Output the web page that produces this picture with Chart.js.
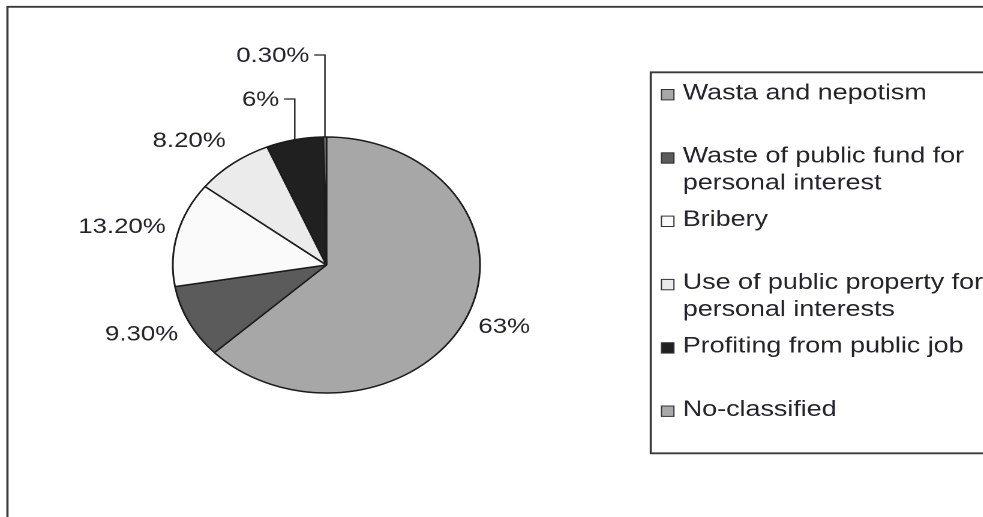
<!DOCTYPE html>
<html>
<head>
<meta charset="utf-8">
<script src="https://cdn.jsdelivr.net/npm/chart.js"></script>
<style>
  html, body { margin: 0; padding: 0; background: #fff; overflow: hidden; }
  /* the source figure is stretched horizontally (~1.2x), so the whole canvas is too */
  #wrap { width: 819px; height: 517px; transform: scaleX(1.2); transform-origin: 0 0; }
</style>
</head>
<body>
<div id="wrap"><canvas id="pie" width="819" height="517"></canvas></div>
<script>
  // categories (one entry per legend line)
  const categories = [
    ['Wasta and nepotism'],
    ['Waste of public fund for', 'personal interest'],
    ['Bribery'],
    ['Use of public property for', 'personal interests'],
    ['Profiting from public job'],
    ['No-classified']
  ];
  const shares = [63, 9.3, 13.2, 8.2, 6, 0.3];
  const shareLabels = ['63%', '9.30%', '13.20%', '8.20%', '6%', '0.30%'];
  const sliceColors = ['#a7a7a7', '#5b5b5b', '#fafafa', '#ebebeb', '#202020', '#a9a9a9'];

  const TEXT = '#23232b';

  // outer frame of the figure (left and top edges only are visible)
  const framePlugin = {
    id: 'frame',
    beforeDraw(chart) {
      const ctx = chart.ctx;
      ctx.save();
      ctx.strokeStyle = '#3a3a3a';
      ctx.lineWidth = 1.8;
      ctx.beginPath();
      ctx.moveTo(6.2, 530);
      ctx.lineTo(6.2, 6.8);
      ctx.lineTo(830, 6.8);
      ctx.stroke();
      ctx.restore();
    }
  };

  // percentage labels; small slices get a leader line going up
  const labelPlugin = {
    id: 'sliceLabels',
    afterDatasetsDraw(chart) {
      const ctx = chart.ctx;
      const meta = chart.getDatasetMeta(0);
      ctx.save();
      ctx.font = '21.5px "Liberation Sans", Arial, sans-serif';
      ctx.fillStyle = TEXT;
      ctx.strokeStyle = '#222';
      ctx.lineWidth = 1.2;
      let rank = 0;
      meta.data.forEach((arc, i) => {
        const p = arc.getProps(['x', 'y', 'startAngle', 'endAngle', 'outerRadius'], true);
        const mid = (p.startAngle + p.endAngle) / 2;
        const c = Math.cos(mid), s = Math.sin(mid);
        if (shares[i] < 7) {
          const ex = p.x + p.outerRadius * c;
          const ey = p.y + p.outerRadius * s;
          const top = p.y - p.outerRadius - 38 - 44 * rank;
          ctx.beginPath();
          ctx.moveTo(ex, ey);
          ctx.lineTo(ex, top);
          ctx.lineTo(ex - 9, top);
          ctx.stroke();
          ctx.textAlign = 'right';
          ctx.textBaseline = 'middle';
          ctx.fillText(shareLabels[i], ex - 13, top + 1);
          rank++;
          return;
        }
        const r = p.outerRadius + 10;
        const ax = p.x + r * c;
        const ay = p.y + r * s + s * 18;
        ctx.textAlign = c >= 0 ? 'left' : 'right';
        ctx.textBaseline = 'middle';
        ctx.fillText(shareLabels[i], ax, ay);
      });
      ctx.restore();
    }
  };

  // boxed legend on the right
  const legendPlugin = {
    id: 'boxLegend',
    afterDraw(chart) {
      const ctx = chart.ctx;
      ctx.save();
      ctx.strokeStyle = '#3a3a3a';
      ctx.lineWidth = 1.8;
      ctx.beginPath();
      ctx.moveTo(830, 72.3);
      ctx.lineTo(542.3, 72.3);
      ctx.lineTo(542.3, 453.3);
      ctx.lineTo(830, 453.3);
      ctx.stroke();

      ctx.font = '22.4px "Liberation Sans", Arial, sans-serif';
      ctx.textAlign = 'left';
      ctx.textBaseline = 'alphabetic';
      categories.forEach((lines, i) => {
        const base = 99.3 + 63.3 * i;
        ctx.fillStyle = sliceColors[i];
        ctx.fillRect(551.2, base - 9.8, 10.4, 10.4);
        ctx.strokeStyle = '#333';
        ctx.lineWidth = 1;
        ctx.strokeRect(551.2, base - 9.8, 10.4, 10.4);
        ctx.fillStyle = TEXT;
        lines.forEach((line, k) => ctx.fillText(line, 569, base + 26.7 * k));
      });
      ctx.restore();
    }
  };

  new Chart(document.getElementById('pie'), {
    type: 'pie',
    data: {
      labels: categories,
      datasets: [{
        data: shares,
        backgroundColor: sliceColors,
        borderColor: '#1c1c1c',
        borderWidth: 1.5
      }]
    },
    options: {
      responsive: false,
      devicePixelRatio: 2,
      animation: false,
      radius: 128,
      layout: { padding: { left: 0, right: 275, top: 13, bottom: 0 } },
      plugins: {
        legend: { display: false },
        tooltip: { enabled: false }
      }
    },
    plugins: [framePlugin, labelPlugin, legendPlugin]
  });
</script>
</body>
</html>
